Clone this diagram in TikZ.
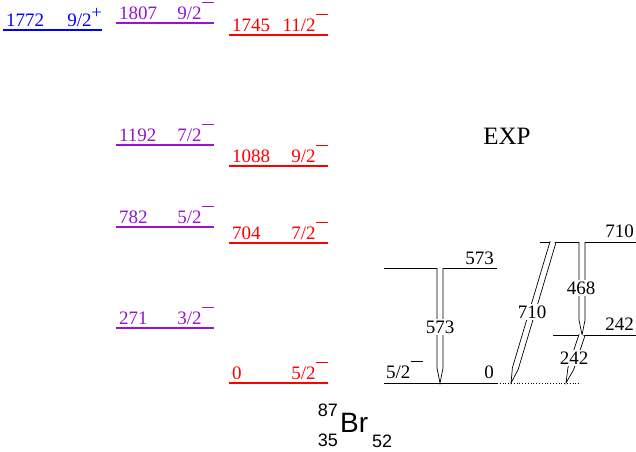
\documentclass[tikz,border=0pt]{standalone}
\usepackage{fontspec}
\setmainfont{Liberation Serif}
\newfontfamily\brfont{Liberation Sans}
\usetikzlibrary{calc}
\definecolor{lvred}{RGB}{255,0,0}
\definecolor{lvblue}{RGB}{0,0,255}
\definecolor{lvpurple}{RGB}{150,20,210}
\newcommand\minussup{\hspace{0.8pt}\rule[0.86em]{0.6em}{0.055em}}
\newcommand\plussup{\raisebox{0.4em}{\fontsize{18}{18}\selectfont +}}
% level: name, colour, x1, x2, y, energy, spin
\newcommand\mylevel[7]{%
  \coordinate (#1l) at (#3,#5);
  \coordinate (#1r) at (#4,#5);
  \draw[lev,#2] (#1l) -- (#1r);
  \node[lab,text=#2,anchor=base west] (#1e) at (#3+3,#5-4) {#6};
  \node[lab,text=#2,anchor=base east] (#1s) at (#4,#5-4) {#7};
}
% hollow gamma arrow from A to B
\newcommand\hollowarrow[2]{%
  \coordinate (hb) at ($(#2)!15pt!(#1)$);
  \draw[hollow] ($(#1)!3pt!90:(#2)$) -- ($(hb)!3pt!90:(#2)$) -- (#2)
     -- ($(hb)!3pt!-90:(#2)$) -- ($(#1)!3pt!-90:(#2)$);
}
\begin{document}
\begin{tikzpicture}[x=1pt,y=-1pt,
  lev/.style={line width=2.2pt},
  exlev/.style={line width=0.8pt},
  lab/.style={inner sep=0pt, font=\fontsize{19}{22}\selectfont},
  hollow/.style={draw=black, fill=white, line width=0.7pt, line join=miter},
  glab/.style={fill=white, inner sep=1.5pt, font=\fontsize{19}{22}\selectfont},
]
\useasboundingbox (0,0) rectangle (636,451);

% theory levels
\mylevel{b1}{lvblue}{3}{102}{30}{1772}{9/2\plussup}
\mylevel{p1}{lvpurple}{116}{214}{23}{1807}{9/2\minussup}
\mylevel{p2}{lvpurple}{116}{214}{145}{1192}{7/2\minussup}
\mylevel{p3}{lvpurple}{116}{214}{227}{782}{5/2\minussup}
\mylevel{p4}{lvpurple}{116}{214}{328}{271}{3/2\minussup}
\mylevel{r1}{lvred}{229}{328}{35}{1745}{11/2\minussup}
\mylevel{r2}{lvred}{229}{328}{166}{1088}{9/2\minussup}
\mylevel{r3}{lvred}{229}{328}{243}{704}{7/2\minussup}
\mylevel{r4}{lvred}{229}{328}{383}{0}{5/2\minussup}

% experimental scheme
\node[font=\fontsize{25}{28}\selectfont] (exp) at (507,136) {EXP};

\coordinate (g0l) at (384,383);
\coordinate (g0r) at (497,383);
\coordinate (g0d) at (581,383);
\draw[exlev] (g0l) -- (g0r);
\draw[exlev,dotted] (g0r) -- (g0d);
\node[lab,anchor=base west] (g0s) at (386,378) {5/2\minussup};
\node[lab,anchor=base east] (g0e) at (494,378) {0};

\coordinate (e573l) at (384,268);
\coordinate (e573r) at (497,268);
\draw[exlev] (e573l) -- (e573r);
\node[lab,anchor=base east] (e573e) at (494,264) {573};

\coordinate (e710l) at (540,242);
\coordinate (e710r) at (636,242);
\draw[exlev] (e710l) -- (e710r);
\node[lab,anchor=base east] (e710e) at (634,237) {710};

\coordinate (e242l) at (553,335);
\coordinate (e242r) at (636,335);
\draw[exlev] (e242l) -- (e242r);
\node[lab,anchor=base east] (e242e) at (634,330) {242};

% transitions
\coordinate (t573a) at (440,268);
\coordinate (t573b) at (440,383);
\coordinate (t710a) at (553,242);
\coordinate (t710b) at (511,383);
\coordinate (t468a) at (582,242);
\coordinate (t468b) at (582,335);
\coordinate (t242a) at (582,335);
\coordinate (t242b) at (566,383);
\hollowarrow{t573a}{t573b}
\hollowarrow{t710a}{t710b}
\hollowarrow{t468a}{t468b}
\hollowarrow{t242a}{t242b}
\node[glab] (g573) at (440,327) {573};
\node[glab] (g710) at (532,312) {710};
\node[glab] (g468) at (581,288) {468};
\node[glab] (g242) at (574,358) {242};

% nucleus label
\node[inner sep=0pt,anchor=base west,font=\brfont\fontsize{28}{30}\selectfont] (br) at (340,432) {Br};
\node[inner sep=0pt,anchor=base east,font=\brfont\fontsize{18}{20}\selectfont] (brA) at (338,416) {87};
\node[inner sep=0pt,anchor=base east,font=\brfont\fontsize{18}{20}\selectfont] (brZ) at (338,446) {35};
\node[inner sep=0pt,anchor=base west,font=\brfont\fontsize{18}{20}\selectfont] (brN) at (372,447) {52};
\end{tikzpicture}
\end{document}
